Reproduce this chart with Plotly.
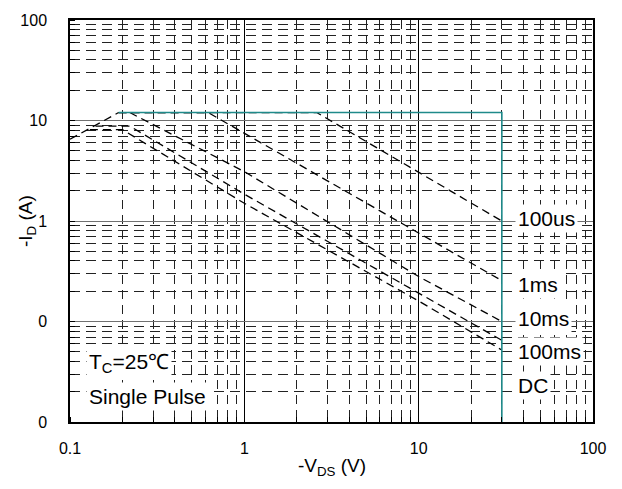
import plotly.graph_objects as go

# ---- data ----
x_tick_vals = [0.1, 1, 10, 100]
x_tick_text = ["0.1", "1", "10", "100"]
y_tick_vals = [0.01, 0.1, 1, 10, 100]
y_tick_text = ["0", "0", "1", "10", "100"]

rds_v = [0.1, 0.19]
rds_i = [6.5, 12]
us100_v = [0.19, 2.6, 30]
us100_i = [12, 12, 1.0]
ms1_v = [0.19, 0.62, 30]
ms1_i = [12, 12, 0.255]
ms10_v = [0.22, 1, 10, 30]
ms10_i = [12, 3.1, 0.28, 0.1]
ms100_v = [0.14, 0.22, 1, 10, 30]
ms100_i = [8.8, 8.8, 1.85, 0.19, 0.065]
dc_v = [0.13, 0.2, 1, 10, 30]
dc_i = [8.1, 8.1, 1.5, 0.16, 0.052]
limit_v = [0.19, 30, 30]
limit_i = [12, 12, 0.01]

curve_labels = ["100us", "1ms", "10ms", "100ms", "DC"]
label_y_px = [216.5, 283, 317, 351, 385]

FONT = "Liberation Sans, Arial, sans-serif"

fig = go.Figure()

dash_style = dict(color="black", width=1.3, dash="8px,5px")
for vx, iy in [(rds_v, rds_i), (us100_v, us100_i), (ms1_v, ms1_i),
               (ms10_v, ms10_i), (ms100_v, ms100_i), (dc_v, dc_i)]:
    fig.add_trace(go.Scatter(x=vx, y=iy, mode="lines", line=dash_style,
                             showlegend=False, hoverinfo="skip"))

fig.add_trace(go.Scatter(x=limit_v, y=limit_i, mode="lines",
                         line=dict(color="#1f8a8a", width=1.6),
                         showlegend=False, hoverinfo="skip"))

L, R, T, B = 70, 29, 16, 67
W, H = 622, 489
pw, ph = W - L - R, H - T - B

def py(p):
    return (H - B - p) / ph

annotations = []
for lab, ypx in zip(curve_labels, label_y_px):
    annotations.append(dict(text=lab, xref="paper", yref="paper",
                            x=(515 - L) / pw, y=py(ypx), xanchor="left",
                            yanchor="middle", showarrow=False,
                            font=dict(family=FONT, size=21, color="black"),
                            bgcolor="white", borderpad=2))

annotations.append(dict(text="T<sub>C</sub>=25℃", xref="paper", yref="paper",
                        x=(86 - L) / pw, y=py(362), xanchor="left", yanchor="middle",
                        showarrow=False, font=dict(family=FONT, size=21, color="black"),
                        bgcolor="white", borderpad=2))
annotations.append(dict(text="Single Pulse", xref="paper", yref="paper",
                        x=(86 - L) / pw, y=py(396), xanchor="left", yanchor="middle",
                        showarrow=False, font=dict(family=FONT, size=21, color="black"),
                        bgcolor="white", borderpad=2))

annotations.append(dict(text="-V<sub>DS</sub> (V)", xref="paper", yref="paper",
                        x=0.5, y=py(467), xanchor="center", yanchor="middle",
                        showarrow=False, font=dict(family=FONT, size=19, color="black")))
annotations.append(dict(text="-I<sub>D</sub> (A)", xref="paper", yref="paper",
                        x=(27 - L) / pw, y=0.5, xanchor="center", yanchor="middle",
                        textangle=-90, showarrow=False,
                        font=dict(family=FONT, size=19, color="black")))

fig.update_layout(
    width=W, height=H,
    margin=dict(l=L, r=R, t=T, b=B),
    paper_bgcolor="white", plot_bgcolor="white",
    annotations=annotations,
    font=dict(family=FONT, color="black"),
)

fig.update_xaxes(
    type="log", range=[-1, 2],
    tickvals=x_tick_vals, ticktext=x_tick_text,
    tickfont=dict(family=FONT, size=16, color="black"),
    ticks="", ticklabelstandoff=11,
    showgrid=True, gridcolor="black", gridwidth=1,
    showline=True, linecolor="black", linewidth=1.5, mirror=True,
    zeroline=False,
    minor=dict(dtick="D1", showgrid=True, gridcolor="#222222", gridwidth=1,
               griddash="9px,6px", ticks="inside", ticklen=5, tickcolor="black"),
)
fig.update_yaxes(
    type="log", range=[-2, 2],
    tickvals=y_tick_vals, ticktext=y_tick_text,
    tickfont=dict(family=FONT, size=16, color="black"),
    ticks="", ticklabelstandoff=18,
    showgrid=True, gridcolor="#707070", gridwidth=1,
    showline=True, linecolor="black", linewidth=1.5, mirror=True,
    zeroline=False,
    minor=dict(dtick="D1", showgrid=True, gridcolor="#222222", gridwidth=1,
               griddash="10px,6px", ticks="inside", ticklen=5, tickcolor="black"),
)

fig.write_html("out.html", config={"displayModeBar": False},
               post_script="document.body.style.margin='0px';document.body.style.padding='0px';")
